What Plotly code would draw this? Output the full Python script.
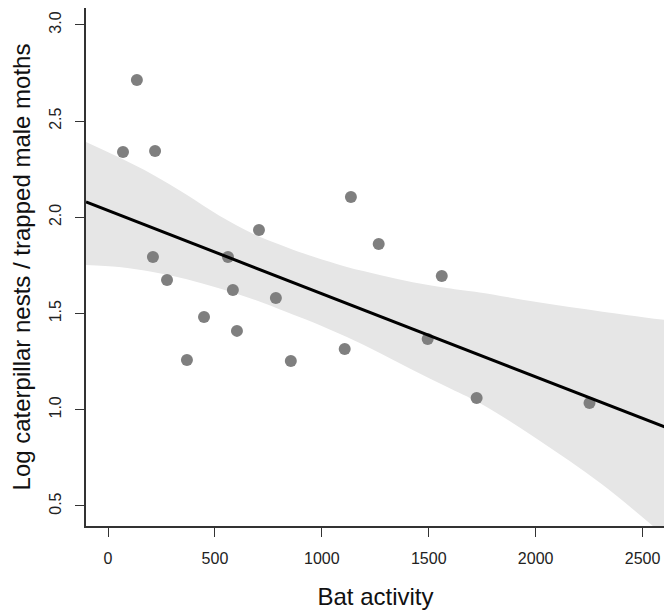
import plotly.graph_objects as go

# Observed points
bat_activity = [70, 135, 220, 210, 276, 561, 706, 584, 785, 449, 603, 369, 855,
                1136, 1266, 1561, 1107, 1495, 1724, 2252]
log_ratio = [2.34, 2.714, 2.345, 1.794, 1.675, 1.794, 1.934, 1.623, 1.581, 1.482,
             1.410, 1.259, 1.254, 2.106, 1.862, 1.695, 1.316, 1.368, 1.061, 1.035]

# Fitted line (read at the ends of the axis)
fit_x = [-103, 2603]
fit_y = [2.080, 0.911]

# Confidence band
band_x = [-103, 51, 210, 364, 519, 678, 832, 958, 1117, 1271, 1425, 1584, 1738,
          2005, 2313, 2603]
band_upper = [2.392, 2.312, 2.222, 2.120, 2.010, 1.915, 1.846, 1.796, 1.742, 1.701,
              1.663, 1.633, 1.610, 1.560, 1.510, 1.467]
band_lower = [1.753, 1.742, 1.716, 1.680, 1.632, 1.575, 1.510, 1.455, 1.378, 1.295,
              1.207, 1.120, 1.035, 0.850, 0.610, 0.344]

x_ticks = [0, 500, 1000, 1500, 2000, 2500]
y_ticks = [0.5, 1.0, 1.5, 2.0, 2.5, 3.0]

fig = go.Figure()
fig.add_trace(go.Scatter(x=band_x, y=band_lower, mode="lines",
                         line=dict(width=0, color="rgba(0,0,0,0)", shape="spline",
                                   smoothing=1.0),
                         showlegend=False, hoverinfo="skip"))
fig.add_trace(go.Scatter(x=band_x, y=band_upper, mode="lines",
                         line=dict(width=0, color="rgba(0,0,0,0)", shape="spline",
                                   smoothing=1.0),
                         fill="tonexty", fillcolor="#e6e6e6",
                         showlegend=False, hoverinfo="skip"))
fig.add_trace(go.Scatter(x=bat_activity, y=log_ratio, mode="markers",
                         marker=dict(color="#7f7f7f", size=12),
                         showlegend=False))
fig.add_trace(go.Scatter(x=fit_x, y=fit_y, mode="lines",
                         line=dict(color="#000000", width=3),
                         showlegend=False))

font = "Liberation Sans, Arial, sans-serif"
fig.update_layout(
    width=664, height=605,
    margin=dict(l=78, r=7, t=0, b=87),
    plot_bgcolor="white", paper_bgcolor="white",
    font=dict(family=font, color="#222222"),
)
fig.update_xaxes(
    range=[-103, 2605], tickvals=x_ticks, ticks="outside", ticklen=9,
    tickwidth=1.3, tickcolor="#333333", showline=True, linecolor="#333333",
    linewidth=1.5, showgrid=False, zeroline=False, automargin=False,
    ticklabelstandoff=8,
    tickfont=dict(size=16, family=font, color="#222222"),
    title=dict(text="Bat activity", font=dict(size=24, family=font, color="#111111"),
               standoff=22),
)
fig.update_yaxes(
    range=[0.396, 3.088], tickvals=y_ticks, tickformat=".1f", tickangle=-90,
    ticks="outside", ticklen=9, tickwidth=1.3, tickcolor="#333333",
    showline=True, linecolor="#333333", linewidth=1.5, showgrid=False,
    zeroline=False, automargin=False, ticklabelstandoff=8,
    tickfont=dict(size=16, family=font, color="#222222"),
    title=dict(text="Log caterpillar nests / trapped male moths",
               font=dict(size=24, family=font, color="#111111"), standoff=14),
)

fig.write_html("out.html")
